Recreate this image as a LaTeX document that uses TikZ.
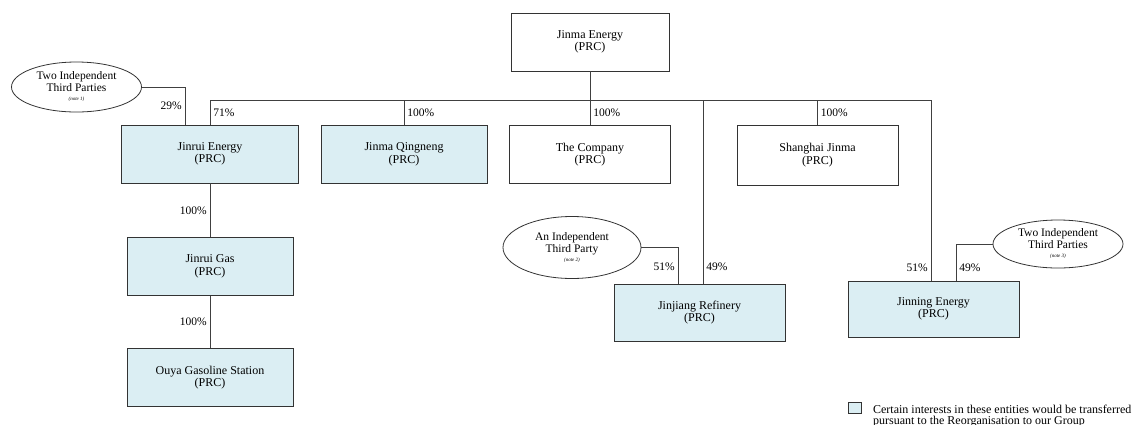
\documentclass[tikz,border=0pt]{standalone}
\usepackage{fontspec}
\setmainfont{Liberation Serif}
\usetikzlibrary{shapes.geometric}
\definecolor{paleblue}{RGB}{219,238,243}

\begin{document}
\begin{tikzpicture}[x=1pt,y=-1pt]
    \tikzstyle{entity}=[rectangle, draw=black!80, line width=0.9pt, align=center, inner sep=0pt, minimum width=166pt, minimum height=58pt, font=\fontsize{12}{12.5}\selectfont]
    \tikzstyle{moved}=[entity, fill=paleblue]
    \tikzstyle{party}=[ellipse, draw=black!80, line width=0.8pt, align=center, inner sep=0pt, minimum width=130pt, minimum height=48pt, font=\fontsize{11.5}{12}\selectfont]
    \tikzstyle{pct}=[inner sep=3pt, font=\fontsize{11.5}{12}\selectfont]
    \tikzstyle{link}=[draw=black!75, line width=0.8pt]
    \useasboundingbox (0,0) rectangle (1136,424);

    \node[entity, minimum width=158pt] (jinma) at (590,42) {Jinma Energy\\(PRC)};
    \node[moved, minimum width=177pt] (jinrui) at (210,154) {Jinrui Energy\\(PRC)};
    \node[moved] (qingneng) at (404,154.5) {Jinma Qingneng\\(PRC)};
    \node[entity, minimum width=161pt] (company) at (590,154.5) {The Company\\(PRC)};
    \node[entity, minimum width=161pt, minimum height=60pt] (shanghai) at (817.5,155) {Shanghai Jinma\\(PRC)};
    \node[moved] (gas) at (210,266.5) {Jinrui Gas\\(PRC)};
    \node[moved] (ouya) at (210,377.5) {Ouya Gasoline Station\\(PRC)};
    \node[moved, minimum width=171pt, minimum height=57pt] (jinjiang) at (699.5,312.5) {Jinjiang Refinery\\(PRC)};
    \node[moved, minimum width=171pt, minimum height=56pt] (jinning) at (933.5,309) {Jinning Energy\\(PRC)};

    \node[party, minimum height=50pt] (party1) at (76.5,87) {Two Independent\\Third Parties\\[-3pt]{\fontsize{5}{6}\selectfont\itshape (note 1)}};
    \node[party, minimum width=138pt, minimum height=62pt] (party2) at (572,247.5) {An Independent\\Third Party\\[-3pt]{\fontsize{5}{6}\selectfont\itshape (note 2)}};
    \node[party] (party3) at (1058,244) {Two Independent\\Third Parties\\[-3pt]{\fontsize{5}{6}\selectfont\itshape (note 3)}};

    \coordinate (bus) at (0,100);
    \coordinate (jr29) at ([xshift=-25pt]jinrui.north);
    \coordinate (jj51) at ([xshift=-21.5pt]jinjiang.north);
    \coordinate (jj49) at ([xshift=3.5pt]jinjiang.north);
    \coordinate (jn51) at ([xshift=-2.5pt]jinning.north);
    \coordinate (jn49) at ([xshift=22.5pt]jinning.north);

    \draw[link] (jinma) -- (company);
    \draw[link] (jinrui.north |- bus) -- (jn51 |- bus);
    \draw[link] (jinrui.north |- bus) -- node[pct, right]{71\%} (jinrui.north);
    \draw[link] (qingneng.north |- bus) -- node[pct, right]{100\%} (qingneng.north);
    \draw[link] (company.north |- bus) -- node[pct, right]{100\%} (company.north);
    \draw[link] (shanghai.north |- bus) -- node[pct, right]{100\%} (shanghai.north);
    \draw[link] (jj49 |- bus) -- node[pct, right, pos=.91]{49\%} (jj49);
    \draw[link] (jn51 |- bus) -- node[pct, left, pos=.93]{51\%} (jn51);
    \draw[link] (party1) -| node[pct, left, pos=.75]{29\%} (jr29);
    \draw[link] (party2) -| node[pct, left, pos=.77]{51\%} (jj51);
    \draw[link] (party3) -| node[pct, right, pos=.82]{49\%} (jn49);
    \draw[link] (jinrui) -- node[pct, left]{100\%} (gas);
    \draw[link] (gas) -- node[pct, left]{100\%} (ouya);

    \node[moved, line width=0.8pt, minimum width=13pt, minimum height=11pt] (key) at (855,408) {};
    \node[anchor=north west, align=left, inner sep=0pt, font=\fontsize{12}{11.5}\selectfont] (keytext) at ([xshift=11pt, yshift=-2.5pt]key.north east) {Certain interests in these entities would be transferred\\pursuant to the Reorganisation to our Group};
\end{tikzpicture}
\end{document}
